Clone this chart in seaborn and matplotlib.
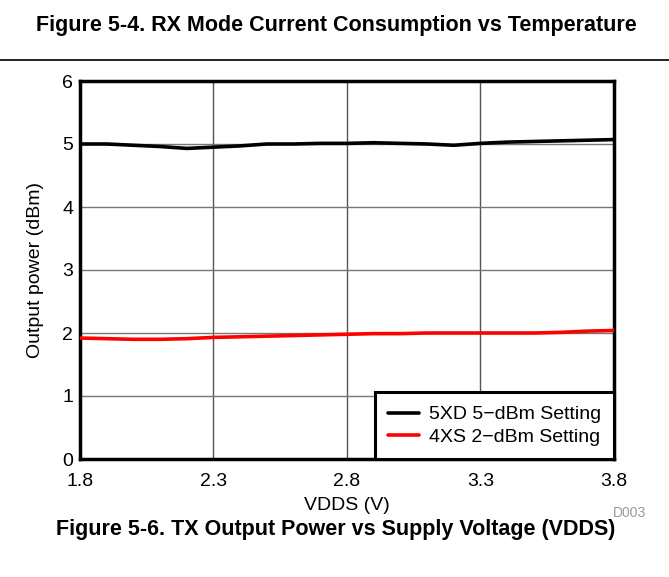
import matplotlib
matplotlib.use("Agg")
import matplotlib.pyplot as plt
import seaborn as sns
import pandas as pd

vdds = [1.8, 1.9, 2.0, 2.1, 2.2, 2.3, 2.4, 2.5, 2.6, 2.7, 2.8, 2.9, 3.0, 3.1, 3.2, 3.3, 3.4, 3.5, 3.6, 3.7, 3.8]
p_5xd = [5.00, 5.00, 4.98, 4.96, 4.93, 4.95, 4.97, 5.00, 5.00, 5.01, 5.01, 5.02, 5.01, 5.00, 4.98, 5.01, 5.03, 5.04, 5.05, 5.06, 5.07]
p_4xs = [1.92, 1.91, 1.90, 1.90, 1.91, 1.93, 1.94, 1.95, 1.96, 1.97, 1.98, 1.99, 1.99, 2.00, 2.00, 2.00, 2.00, 2.00, 2.01, 2.03, 2.04]
series_names = ["5XD 5\u2212dBm Setting", "4XS 2\u2212dBm Setting"]
series_colors = ["#000000", "#FF0000"]
x_ticks = [1.8, 2.3, 2.8, 3.3, 3.8]
y_ticks = [0, 1, 2, 3, 4, 5, 6]

df = pd.concat([
    pd.DataFrame({"VDDS": vdds, "Power": p_5xd, "Series": series_names[0]}),
    pd.DataFrame({"VDDS": vdds, "Power": p_4xs, "Series": series_names[1]}),
])

sns.set_theme(style="white")
plt.rcParams['font.family'] = ['Liberation Sans', 'DejaVu Sans']
plt.rcParams['text.color'] = '#000000'

fig = plt.figure(figsize=(6.69, 5.77), dpi=100)
ax = fig.add_axes([80/669, 1 - 459/577, 534/669, 378/577])

for xv in x_ticks[1:-1]:
    ax.axvline(xv, color="#555555", lw=1, zorder=0)
for yv in y_ticks[1:-1]:
    ax.axhline(yv, color="#777777", lw=1, zorder=0)

sns.lineplot(data=df, x="VDDS", y="Power", hue="Series", palette=series_colors,
             linewidth=2.6, ax=ax, zorder=3)

ax.set_xlim(1.8, 3.8)
ax.set_ylim(0, 6)
ax.set_xticks(x_ticks)
ax.set_xticklabels([f"{v:.1f}" for v in x_ticks])
ax.set_yticks(y_ticks)
ax.tick_params(length=0, labelsize=14, colors="#000000")
ax.tick_params(axis="x", pad=10)
ax.tick_params(axis="y", pad=5)
ax.set_xlabel("VDDS (V)", fontsize=14, labelpad=5, color="#000000")
ax.set_ylabel("Output power (dBm)", fontsize=14, labelpad=13, color="#000000")
for s in ax.spines.values():
    s.set_linewidth(2.5)
    s.set_color("#000000")

leg = ax.legend(loc="lower right", fontsize=14, frameon=True, fancybox=False,
                edgecolor="#000000", borderaxespad=0.0, handlelength=1.6,
                handletextpad=0.5, borderpad=0.68, labelspacing=0.25,
                labelcolor="#000000")
leg.get_frame().set_linewidth(2.2)
leg.get_frame().set_alpha(1)

fig.text(336/669, 1 - 26/577, "Figure 5-4. RX Mode Current Consumption vs Temperature",
         ha="center", va="center", fontsize=15.5, fontweight="bold", color="#000000")
fig.add_artist(plt.Line2D([0, 1], [1 - 60/577, 1 - 60/577], color="#000000", lw=1.2))
fig.text(336/669, 1 - 530/577, "Figure 5-6. TX Output Power vs Supply Voltage (VDDS)",
         ha="center", va="center", fontsize=15.5, fontweight="bold", color="#000000")
fig.text(629/669, 1 - 513/577, "D003", ha="center", va="center", fontsize=10, color="#999999")

fig.savefig("out.png", dpi=100)
